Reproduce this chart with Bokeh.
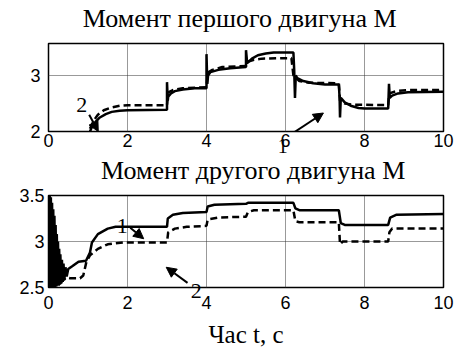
from bokeh.plotting import figure
from bokeh.layouts import column
from bokeh.models import Range1d, FixedTicker, Arrow, NormalHead, Label
from bokeh.embed import file_html
from bokeh.resources import INLINE

# ---- data: motor 1 torque (top) ----
t1_solid = [1.05, 1.10, 1.20, 1.30, 1.45, 1.60, 1.80, 2.00, 3.00, 3.00, 3.02, 3.03, 3.10, 3.20, 3.40, 3.70, 4.00,
            4.00, 4.02, 4.04, 4.10, 4.30, 4.60, 5.00, 5.00, 5.03, 5.15, 5.30, 5.50, 5.70, 6.20,
            6.22, 6.24, 6.26, 6.30, 6.45, 6.70, 7.00, 7.35, 7.37, 7.38, 7.40, 7.50, 7.65, 7.85, 8.00, 8.60,
            8.62, 8.64, 8.70, 8.85, 9.10, 10.0]
m1_solid = [2.00, 2.08, 2.18, 2.25, 2.31, 2.35, 2.37, 2.38, 2.39, 2.88, 2.55, 2.62, 2.68, 2.72, 2.75, 2.77, 2.77,
            3.38, 2.85, 3.00, 3.06, 3.10, 3.13, 3.15, 3.45, 3.22, 3.30, 3.36, 3.39, 3.41, 3.41,
            3.10, 2.60, 3.00, 2.95, 2.90, 2.86, 2.84, 2.84, 2.60, 2.25, 2.60, 2.52, 2.46, 2.42, 2.41, 2.41,
            2.85, 2.60, 2.64, 2.68, 2.70, 2.71]
t1_dash = [1.05, 1.15, 1.25, 1.40, 1.60, 1.80, 2.00, 3.00, 3.03, 3.15, 3.40, 4.00, 4.03, 4.15, 4.40, 5.00,
           5.03, 5.20, 5.40, 6.15, 6.20, 6.35, 6.60, 7.35, 7.38, 7.50, 7.70, 8.60, 8.63, 8.80, 9.10, 10.0]
m1_dash = [2.05, 2.20, 2.30, 2.38, 2.43, 2.46, 2.47, 2.47, 2.70, 2.74, 2.77, 2.79, 3.05, 3.10, 3.15, 3.17,
           3.24, 3.28, 3.30, 3.31, 3.00, 2.90, 2.87, 2.86, 2.55, 2.50, 2.48, 2.47, 2.68, 2.72, 2.74, 2.74]

# ---- data: motor 2 torque (bottom) ----
t2_solid = [0.00, 0.02, 0.03, 0.05, 0.06, 0.08, 0.09, 0.11, 0.12, 0.14, 0.15, 0.17, 0.18, 0.20, 0.21, 0.23,
            0.24, 0.26, 0.27, 0.29, 0.30, 0.32, 0.34, 0.36, 0.38, 0.40, 0.43, 0.46, 0.50,
            0.60, 0.76, 0.95, 1.05, 1.10, 1.25, 1.50, 1.70, 3.00, 3.02, 3.15, 3.40, 4.00, 4.03, 4.20, 5.00,
            5.05, 6.20, 6.25, 6.35, 7.35, 7.40, 7.50, 8.60, 8.65, 8.80, 10.0]
m2_solid = [3.50, 2.50, 3.50, 2.50, 3.48, 2.50, 3.42, 2.50, 3.35, 2.50, 3.28, 2.50, 3.18, 2.51, 3.08, 2.52,
            3.00, 2.52, 2.92, 2.53, 2.86, 2.54, 2.80, 2.56, 2.76, 2.58, 2.72, 2.62, 2.70,
            2.73, 2.78, 2.79, 2.88, 2.99, 3.08, 3.14, 3.16, 3.16, 3.25, 3.29, 3.31, 3.32, 3.38, 3.40, 3.41,
            3.42, 3.42, 3.36, 3.34, 3.34, 3.20, 3.18, 3.18, 3.26, 3.29, 3.30]
t2_dash = [0.30, 0.45, 0.55, 0.80, 0.88, 0.96, 1.05, 1.25, 1.50, 1.90, 3.00, 3.03, 3.20, 3.50, 4.00, 4.03, 4.30,
           5.00, 5.05, 5.20, 6.20, 6.25, 6.35, 7.35, 7.38, 7.45, 8.60, 8.63, 8.70, 10.0]
m2_dash = [2.55, 2.61, 2.60, 2.60, 2.63, 2.78, 2.85, 2.92, 2.97, 2.99, 2.99, 3.10, 3.14, 3.16, 3.17, 3.24, 3.26,
           3.27, 3.32, 3.34, 3.34, 3.22, 3.21, 3.21, 2.97, 3.00, 3.00, 3.10, 3.14, 3.14]

x_ticks = [0, 2, 4, 6, 8, 10]
y1_ticks = [2, 3]
y2_ticks = [2.5, 3, 3.5]

title1 = "Момент першого двигуна М"
title2 = "Момент другого двигуна М"
xlabel = "Час t, с"

SERIF = "Liberation Serif"
SANS = "Liberation Sans"


def style(p, yticks, xstand, ystand):
    p.outline_line_color = "black"
    p.outline_line_width = 1.5
    p.xaxis.ticker = FixedTicker(ticks=x_ticks)
    p.yaxis.ticker = FixedTicker(ticks=yticks)
    for ax in (p.xaxis, p.yaxis):
        ax.axis_line_color = None
        ax.major_tick_in = 0
        ax.major_tick_out = 0
        ax.minor_tick_line_color = None
        ax.major_label_text_font = SANS
        ax.major_label_text_font_size = "18px"
        ax.major_label_text_color = "black"
    p.xaxis.major_label_standoff = xstand
    p.yaxis.major_label_standoff = ystand
    for g in (p.xgrid, p.ygrid):
        g.grid_line_color = "#333333"
        g.grid_line_dash = "1 1"
        g.grid_line_width = 1


def head():
    return NormalHead(size=10, fill_color="black", line_color="black")


def num_label(x, y, text, size="22px"):
    return Label(x=x, y=y, text=text, text_font=SERIF, text_font_size=size, text_color="black",
                 text_align="center", text_baseline="middle")


def title_label(x, y, text):
    return Label(x=x, y=y, text=text, text_font=SERIF, text_font_size="26px", text_color="black",
                 text_align="center", text_baseline="alphabetic")


# ---- top figure (also carries the heading of the lower chart, drawn below its axis) ----
p1 = figure(width=470, height=185, output_backend="svg", toolbar_location=None,
            x_range=Range1d(0, 10), y_range=Range1d(2, 3.57),
            min_border_left=45, min_border_right=27, min_border_top=43, min_border_bottom=54)
style(p1, y1_ticks, 2, 8)
p1.line(t1_dash, m1_dash, line_color="black", line_width=2.5, line_dash="7 4")
p1.line(t1_solid, m1_solid, line_color="black", line_width=2.5)
p1.add_layout(Arrow(end=head(), x_start=1.03, y_start=2.3, x_end=1.26, y_end=2.0, line_width=2))
p1.add_layout(Arrow(end=head(), x_start=6.1, y_start=1.93, x_end=6.96, y_end=2.33, line_width=2))
p1.add_layout(num_label(0.84, 2.47, "2"))
p1.add_layout(num_label(5.93, 1.735, "1", "20px"), "right")
p1.add_layout(title_label(4.84, 4.016, title1), "above")
p1.add_layout(title_label(5.18, 1.30, title2), "below")

# ---- bottom figure ----
p2 = figure(width=470, height=167, output_backend="svg", toolbar_location=None,
            x_range=Range1d(0, 10), y_range=Range1d(2.5, 3.5),
            min_border_left=48, min_border_right=16, min_border_top=10, min_border_bottom=65)
style(p2, y2_ticks, 8, 4)
p2.xaxis.axis_label = xlabel
p2.xaxis.axis_label_text_font = SERIF
p2.xaxis.axis_label_text_font_size = "25px"
p2.xaxis.axis_label_text_font_style = "normal"
p2.xaxis.axis_label_text_color = "black"
p2.xaxis.axis_label_standoff = 9
p2.line(t2_dash, m2_dash, line_color="black", line_width=2.5, line_dash="7 4")
p2.line(t2_solid, m2_solid, line_color="black", line_width=2.5)
p2.add_layout(Arrow(end=head(), x_start=2.07, y_start=3.15, x_end=2.41, y_end=3.03, line_width=2))
p2.add_layout(Arrow(end=head(), x_start=3.52, y_start=2.55, x_end=2.98, y_end=2.72, line_width=2))
p2.add_layout(num_label(1.87, 3.17, "1"))
p2.add_layout(num_label(3.74, 2.467, "2"), "right")

layout = column(p1, p2, spacing=0)
open("out.html", "w").write(file_html(layout, INLINE))
